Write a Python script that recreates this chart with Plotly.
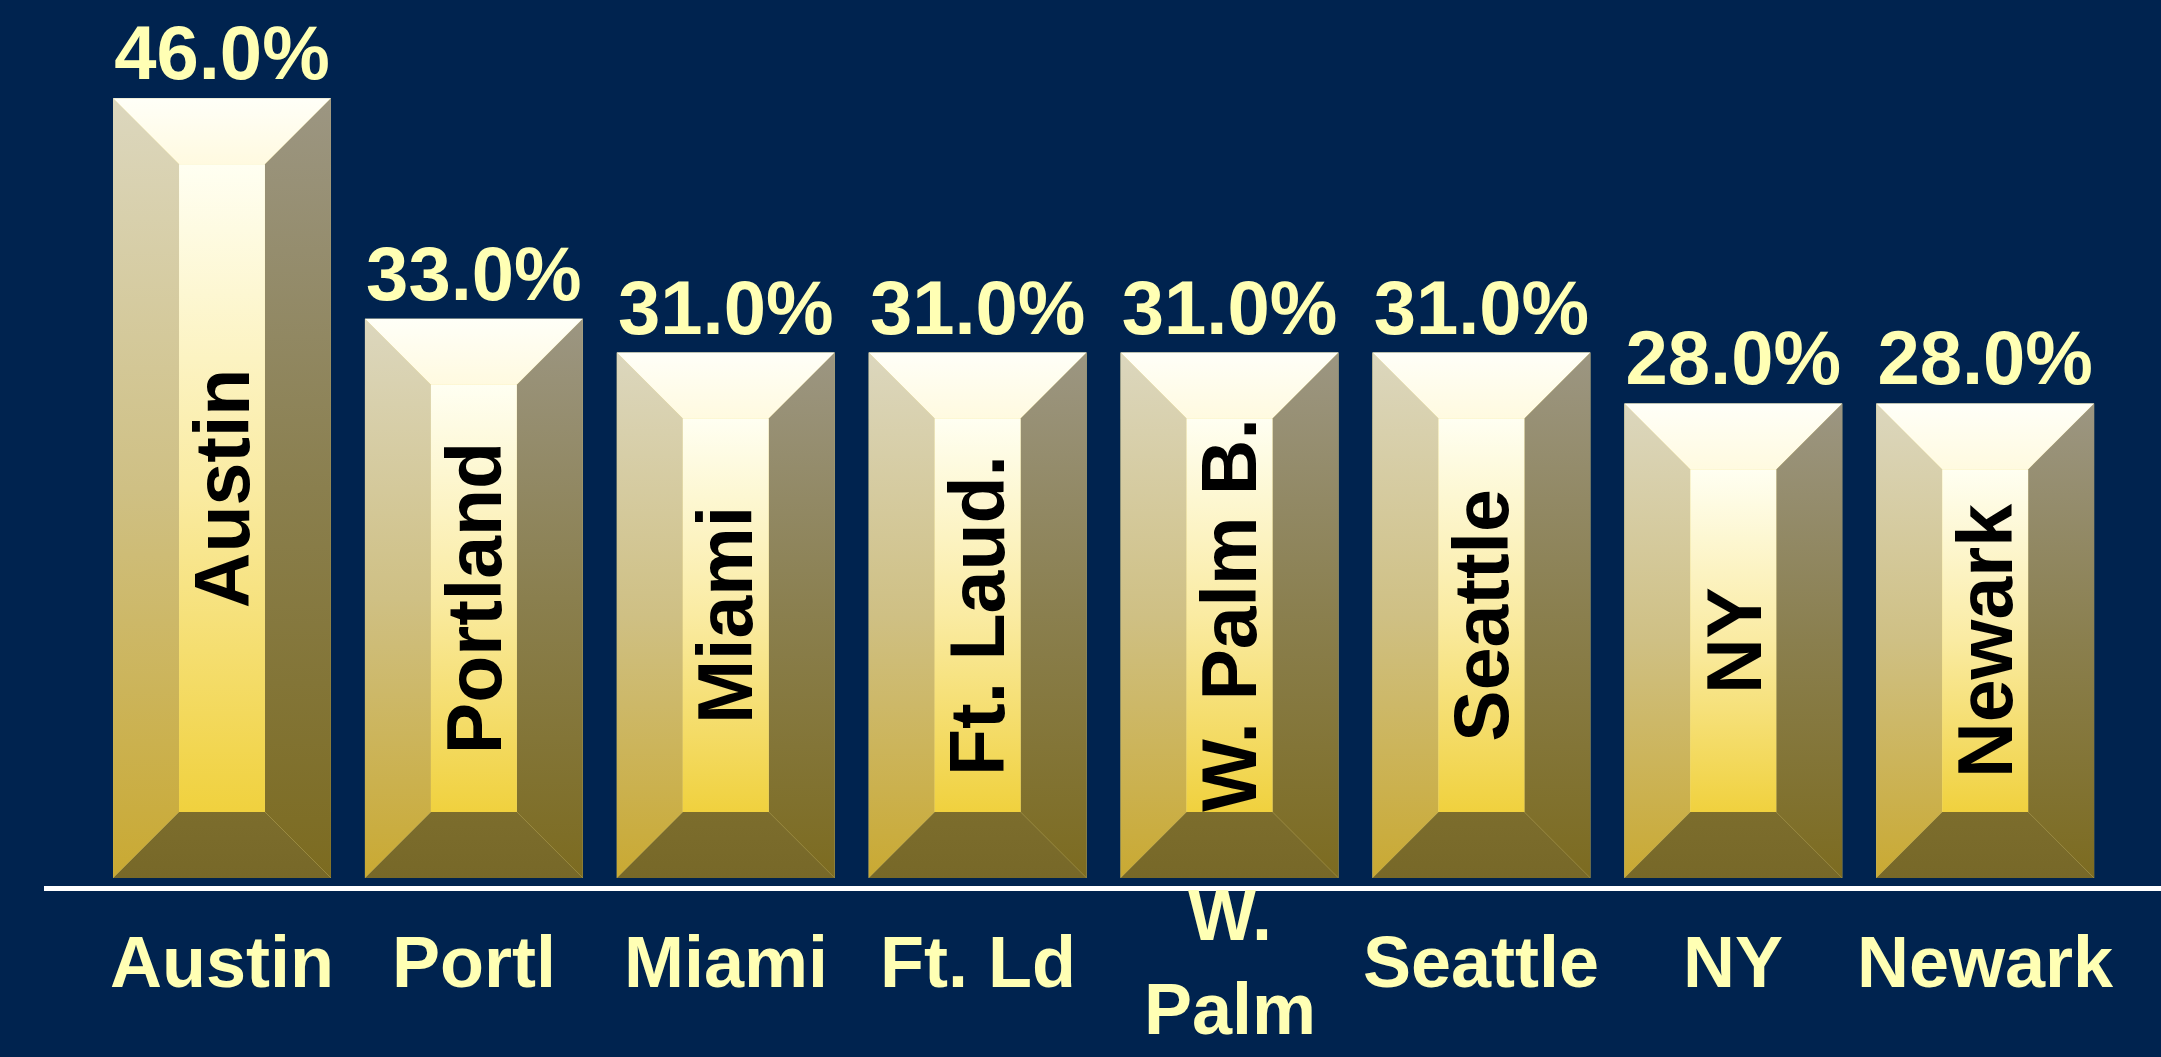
import plotly.graph_objects as go

# ---- data ----
categories = ["Austin", "Portland", "Miami", "Ft. Laud.", "W. Palm B.", "Seattle", "NY", "Newark"]
tick_labels = ["Austin", "Portl", "Miami", "Ft. Ld", "W.<br>Palm", "Seattle", "NY", "Newark"]
values = [46.0, 33.0, 31.0, 31.0, 31.0, 31.0, 28.0, 28.0]

# ---- style ----
BG = "#00234F"
LABEL = "#FFFFB4"
FONT = "Liberation Sans"
BAR_WIDTH = 0.865
PX_PER_X = 251.9      # pixels per category step
PX_PER_Y = 16.95      # pixels per percentage point
BEVEL_PX = 66
X_RANGE = [-0.7066, 7.698]
Y_RANGE = [-0.472, 51.80]

dx = BEVEL_PX / PX_PER_X
dy = BEVEL_PX / PX_PER_Y
xs = list(range(len(categories)))

fig = go.Figure()

# base bars (data)
fig.add_trace(go.Bar(
    x=xs, y=values, width=BAR_WIDTH,
    marker=dict(color="#F6E58A", line=dict(width=0)),
    hovertext=categories, hoverinfo="text+y", showlegend=False,
))

face_scales = {
    "left": [[0, "#C9A932"], [0.5, "#CFC084"], [1, "#DCD7BE"]],
    "right": [[0, "#7C6B20"], [0.5, "#8A7F4E"], [1, "#9C9682"]],
    "center": [[0, "#F0D13E"], [0.5, "#FAEBA2"], [1, "#FFFFF2"]],
    "top": [[0, "#FFFAE0"], [1, "#FFFFF8"]],
    "bottom": [[0, "#776828"], [1, "#7C6D2D"]],
}

def face(px, py, scale, y0, y1):
    fig.add_trace(go.Scatter(
        x=px + [px[0]], y=py + [py[0]], mode="lines", fill="toself",
        line=dict(width=0, color="rgba(0,0,0,0)"),
        fillgradient=dict(type="vertical", colorscale=scale, start=y0, stop=y1),
        hoverinfo="skip", showlegend=False,
    ))

for i, v in zip(xs, values):
    L, R = i - BAR_WIDTH / 2, i + BAR_WIDTH / 2
    B, T = 0.0, v
    l, r, b, t = L + dx, R - dx, B + dy, T - dy
    face([L, R, r, l], [T, T, t, t], face_scales["top"], t, T)
    face([L, l, l, L], [T, t, b, B], face_scales["left"], B, T)
    face([R, R, r, r], [T, B, b, t], face_scales["right"], B, T)
    face([L, l, r, R], [B, b, b, B], face_scales["bottom"], B, b)
    face([l, r, r, l], [b, b, t, t], face_scales["center"], b, t)

# value labels above bars
fig.add_trace(go.Scatter(
    x=xs, y=values, mode="text",
    text=[f"{v:.1f}%" for v in values], textposition="top center",
    textfont=dict(family=FONT, size=76, color=LABEL, weight="bold"),
    hoverinfo="skip", showlegend=False, cliponaxis=False,
))

# rotated labels inside bars
for i, (c, v) in enumerate(zip(categories, values)):
    fig.add_annotation(
        x=i, y=v / 2, xref="x", yref="y", text=c, textangle=-90,
        showarrow=False, font=dict(family=FONT, size=77, color="black", weight="bold"),
    )

# category labels under the axis (vertically centred, like the reference)
for i, lab in enumerate(tick_labels):
    fig.add_annotation(
        x=i, y=0, xref="x", yref="paper", yshift=-76, yanchor="middle",
        text=lab, showarrow=False,
        font=dict(family=FONT, size=72, color=LABEL, weight="bold"),
    )

fig.update_layout(
    width=2161, height=1057,
    paper_bgcolor=BG, plot_bgcolor=BG,
    margin=dict(l=44, r=0, t=0, b=171, autoexpand=False),
    bargap=0.135,
    xaxis=dict(
        range=X_RANGE, tickvals=xs, ticktext=[""] * len(xs), automargin=False,
        showgrid=False, zeroline=False, showline=True, linecolor="white", linewidth=5,
        ticks="",
    ),
    yaxis=dict(range=Y_RANGE, visible=False, showgrid=False, zeroline=False, automargin=False),
)

fig.write_html(
    "out.html",
    config={"displayModeBar": False},
    post_script="document.body.style.margin='0';document.body.style.overflow='hidden';document.body.style.background='" + BG + "';",
)
